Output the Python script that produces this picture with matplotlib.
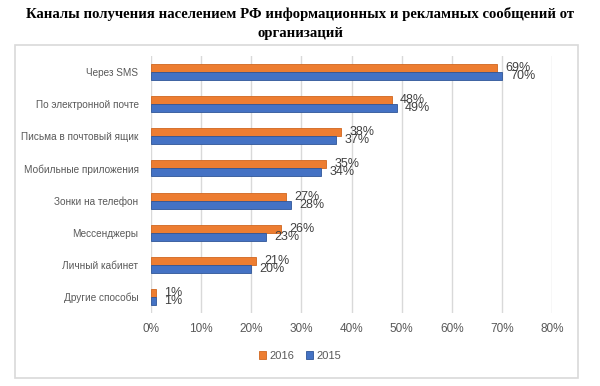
import numpy as np
import matplotlib.pyplot as plt
from matplotlib.patches import Rectangle

# Data
categories = ['Через SMS', 'По электронной почте', 'Письма в почтовый ящик',
              'Мобильные приложения', 'Зонки на телефон', 'Мессенджеры',
              'Личный кабинет', 'Другие способы']
values_2016 = [69, 48, 38, 35, 27, 26, 21, 1]
values_2015 = [70, 49, 37, 34, 28, 23, 20, 1]
xticks = [0, 10, 20, 30, 40, 50, 60, 70, 80]

c2016 = '#ED7D31'
c2015 = '#4472C4'

fig = plt.figure(figsize=(6, 3.86), dpi=100)
fig.patch.set_facecolor('white')

# outer chart frame
fig.patches.append(Rectangle((15 / 600, 1 - 378 / 386), 563 / 600, 333 / 386,
                             transform=fig.transFigure, fill=False,
                             edgecolor='#D9D9D9', linewidth=1.2))

fig.text(0.5, 1 - 14 / 386, 'Каналы получения населением РФ информационных и рекламных сообщений от',
         ha='center', va='center', fontsize=10.6, fontweight='bold', family='Liberation Serif')
fig.text(0.5, 1 - 33 / 386, 'организаций',
         ha='center', va='center', fontsize=10.6, fontweight='bold', family='Liberation Serif')

ax = fig.add_axes([151 / 600, 1 - 313 / 386, 401 / 600, 257 / 386])

y = np.arange(len(categories))
h = 0.25
ax.barh(y - h / 2, values_2016, height=h, color=c2016, edgecolor='#D0661F', linewidth=0.6, label='2016', zorder=3)
ax.barh(y + h / 2, values_2015, height=h, color=c2015, edgecolor='#2F5597', linewidth=0.6, label='2015', zorder=3)

for i in range(len(categories)):
    ax.annotate(f'{values_2016[i]}%', (values_2016[i], y[i] - h / 2), xytext=(6, 0),
                textcoords='offset points', va='center', ha='left', fontsize=9,
                color='#404040', family='Liberation Sans')
    ax.annotate(f'{values_2015[i]}%', (values_2015[i], y[i] + h / 2), xytext=(6, 0),
                textcoords='offset points', va='center', ha='left', fontsize=9,
                color='#404040', family='Liberation Sans')

ax.set_ylim(len(categories) - 0.5, -0.5)
ax.set_xlim(0, 80)
ax.set_xticks(xticks)
ax.set_xticklabels([f'{t}%' for t in xticks], fontsize=8.5, color='#595959', family='Liberation Sans')
ax.set_yticks(y)
ax.set_yticklabels(categories, fontsize=7.2, color='#595959', family='Liberation Sans')
ax.tick_params(axis='y', length=0, pad=9)
ax.tick_params(axis='x', length=0, pad=7)
ax.grid(axis='x', color='#D9D9D9', linewidth=1, zorder=0)
for s in ax.spines.values():
    s.set_visible(False)

leg = fig.legend(loc='center', bbox_to_anchor=(0.5, 1 - 356 / 386), ncol=2, frameon=False,
                 prop={'family': 'Liberation Sans', 'size': 8}, handlelength=0.7,
                 handleheight=0.7, handletextpad=0.3, columnspacing=1.0)
for t in leg.get_texts():
    t.set_color('#595959')

fig.savefig('out.png', dpi=100)
